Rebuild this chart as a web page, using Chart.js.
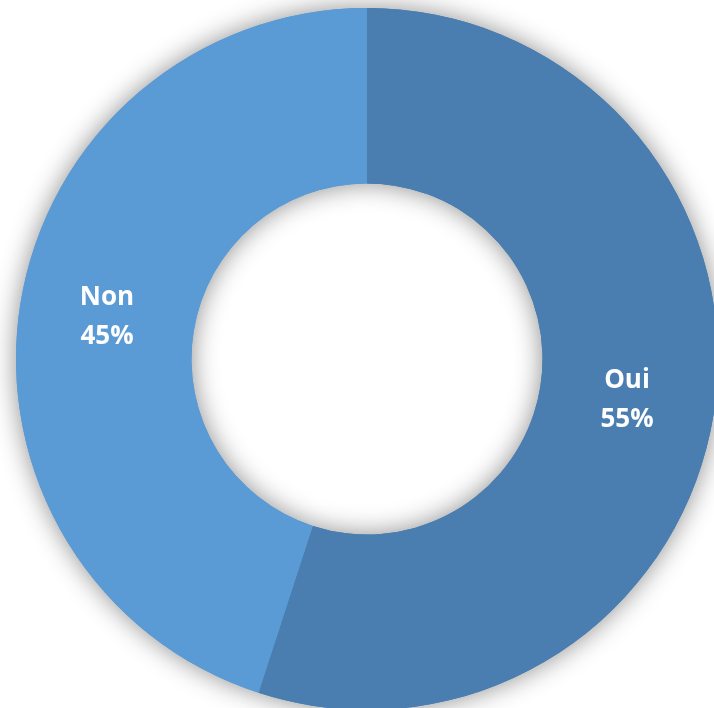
<!DOCTYPE html>
<html>
<head>
<meta charset="utf-8">
<script src="https://cdn.jsdelivr.net/npm/chart.js@4"></script>
<style>
  html, body { margin: 0; padding: 0; background: #fff; overflow: hidden; }
  body { width: 714px; height: 708px; position: relative; }
  #wrap { position: absolute; left: -13px; top: -21px; width: 760px; height: 760px; }
</style>
</head>
<body>
<div id="wrap"><canvas id="donut"></canvas></div>
<script>
const labels = ["Oui", "Non"];
const values = [55, 45];
const colors = ["#4A7EB0", "#5B9BD5"];

// shadow under the ring, drawn before the normal arcs
const ringShadow = {
  id: "ringShadow",
  beforeDatasetsDraw(chart) {
    const ctx = chart.ctx;
    const meta = chart.getDatasetMeta(0);
    ctx.save();
    ctx.shadowColor = "rgba(0,0,0,0.45)";
    ctx.shadowBlur = 26;
    ctx.shadowOffsetX = 0;
    ctx.shadowOffsetY = 0;
    meta.data.forEach(arc => arc.draw(ctx));
    ctx.restore();
  }
};

const sliceLabels = {
  id: "sliceLabels",
  afterDatasetsDraw(chart) {
    const ctx = chart.ctx;
    const meta = chart.getDatasetMeta(0);
    const total = values.reduce((a, b) => a + b, 0);
    ctx.save();
    ctx.fillStyle = "#fff";
    ctx.font = "bold 26px 'Open Sans', sans-serif";
    ctx.textAlign = "center";
    ctx.textBaseline = "middle";
    meta.data.forEach((arc, i) => {
      const p = arc.tooltipPosition();
      const pct = Math.round(values[i] / total * 100) + "%";
      ctx.fillText(labels[i], p.x, p.y - 20);
      ctx.fillText(pct, p.x, p.y + 19);
    });
    ctx.restore();
  }
};

new Chart(document.getElementById("donut"), {
  type: "doughnut",
  data: {
    labels,
    datasets: [{
      data: values,
      backgroundColor: colors,
      borderWidth: 0
    }]
  },
  options: {
    responsive: true,
    maintainAspectRatio: false,
    animation: false,
    cutout: "50%",
    layout: { padding: 29 },
    plugins: { legend: { display: false }, tooltip: { enabled: false } }
  },
  plugins: [ringShadow, sliceLabels]
});
</script>
</body>
</html>
